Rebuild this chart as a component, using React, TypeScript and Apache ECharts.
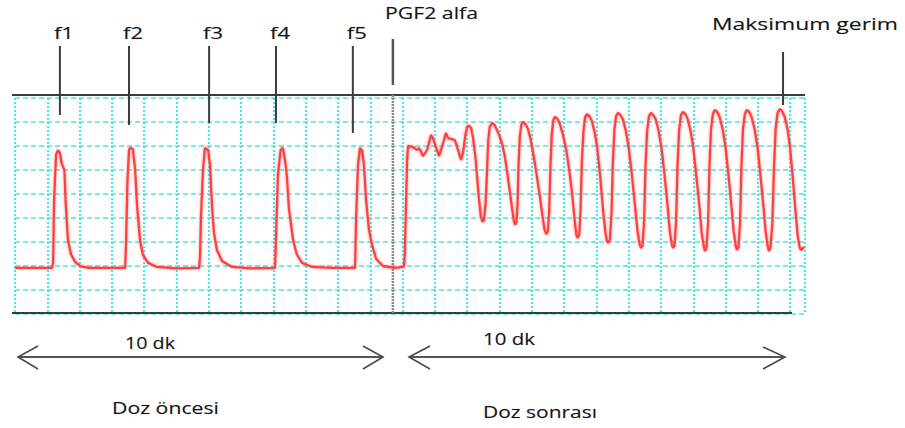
import React, { useEffect, useRef } from "react";
import * as echarts from "echarts";

// Uterine strip tension trace: [time (grid divisions), tension (grid divisions)]
const preDoseTrace: [number, number][] = [
  [0, 1.92], [1.15, 1.92], [1.18, 2.17], [1.21, 4.75], [1.27, 6.63], [1.33, 6.83], [1.39, 6.71],
  [1.45, 6.25], [1.53, 6.0], [1.57, 4.6], [1.64, 3.08], [1.73, 2.5], [1.86, 2.17], [2.04, 1.98], [2.3, 1.92],
  [3.41, 1.92], [3.44, 3.0], [3.48, 5.5], [3.53, 6.83], [3.56, 6.92], [3.65, 6.88], [3.72, 6.0],
  [3.78, 4.5], [3.87, 3.08], [3.96, 2.46], [4.12, 2.13], [4.4, 1.96], [5.0, 1.9],
  [5.7, 1.92], [5.73, 2.46], [5.76, 4.13], [5.82, 6.0], [5.88, 6.92], [5.98, 6.83], [6.04, 6.17],
  [6.1, 4.5], [6.16, 3.38], [6.25, 2.67], [6.41, 2.21], [6.72, 1.96], [7.3, 1.9],
  [8.05, 1.92], [8.08, 3.08], [8.14, 5.79], [8.22, 6.8], [8.27, 6.92], [8.3, 6.88], [8.36, 6.42],
  [8.42, 5.7], [8.48, 4.4], [8.61, 3.08], [8.72, 2.5], [8.89, 2.13], [9.2, 1.96], [9.8, 1.92],
  [10.53, 1.92], [10.56, 3.92], [10.62, 6.21], [10.68, 6.92], [10.74, 6.83], [10.8, 6.3],
  [10.87, 4.75], [10.96, 3.5], [11.05, 2.9], [11.18, 2.3], [11.39, 2.0], [11.76, 1.92], [12.04, 1.96],
];

const postDoseTrace: [number, number][] = [
  [12.07, 2.46], [12.11, 4.75], [12.14, 6.42], [12.17, 7.0],
  [12.32, 6.96], [12.45, 6.83], [12.51, 6.92], [12.63, 6.58], [12.76, 6.83], [12.88, 7.46],
  [12.94, 7.33], [13.03, 6.96], [13.13, 6.58], [13.22, 6.96], [13.34, 7.54], [13.41, 7.33],
  [13.53, 7.29], [13.62, 7.25], [13.72, 6.83], [13.81, 6.42], [13.87, 6.71], [13.95, 7.5],
  [14.0, 7.8], [14.06, 7.85], [14.12, 7.75], [14.18, 7.35], [14.26, 6.5], [14.35, 5.0],
  [14.42, 4.1], [14.47, 3.85], [14.52, 3.9], [14.57, 4.6], [14.61, 5.8], [14.65, 7.2],
  [14.7, 7.8], [14.77, 7.96],
  [14.85, 7.88], [14.92, 7.67], [15.0, 7.42], [15.08, 7.1], [15.16, 6.6], [15.23, 6.0],
  [15.31, 5.2], [15.39, 4.4], [15.45, 3.85], [15.49, 3.72], [15.53, 3.85], [15.56, 4.6],
  [15.59, 6.2], [15.63, 7.4], [15.68, 7.9], [15.73, 8.0],
  [15.8, 7.92], [15.88, 7.72], [15.96, 7.3], [16.04, 6.75], [16.14, 5.9], [16.25, 4.9],
  [16.34, 4.0], [16.4, 3.5], [16.45, 3.33], [16.5, 3.45], [16.54, 4.3], [16.58, 6.2],
  [16.62, 7.5], [16.67, 8.1], [16.72, 8.21],
  [16.8, 8.12], [16.87, 7.92], [16.96, 7.5], [17.06, 6.9], [17.16, 6.0], [17.25, 5.0],
  [17.33, 3.9], [17.38, 3.3], [17.42, 3.17], [17.47, 3.3], [17.51, 4.3], [17.55, 6.3],
  [17.6, 7.6], [17.65, 8.2], [17.71, 8.33],
  [17.78, 8.25], [17.86, 8.05], [17.95, 7.55], [18.03, 6.9], [18.12, 5.7], [18.21, 4.3],
  [18.28, 3.4], [18.33, 3.02], [18.37, 2.96], [18.42, 3.1], [18.47, 4.2], [18.51, 6.3],
  [18.56, 7.7], [18.61, 8.25], [18.67, 8.38],
  [18.74, 8.3], [18.82, 8.12], [18.91, 7.65], [19.0, 6.95], [19.1, 5.8], [19.19, 4.6],
  [19.27, 3.5], [19.33, 2.95], [19.38, 2.75], [19.43, 2.85], [19.48, 3.9], [19.52, 6.1],
  [19.57, 7.6], [19.63, 8.25], [19.69, 8.38],
  [19.76, 8.3], [19.84, 8.1], [19.93, 7.6], [20.02, 6.9], [20.11, 5.8], [20.2, 4.6],
  [20.27, 3.5], [20.33, 2.95], [20.37, 2.75], [20.42, 2.85], [20.47, 3.9], [20.51, 6.1],
  [20.56, 7.6], [20.62, 8.3], [20.68, 8.42],
  [20.75, 8.35], [20.83, 8.12], [20.92, 7.6], [21.01, 6.85], [21.1, 5.7], [21.19, 4.5],
  [21.26, 3.4], [21.32, 2.85], [21.36, 2.63], [21.41, 2.75], [21.46, 3.8], [21.5, 6.1],
  [21.55, 7.7], [21.61, 8.35], [21.67, 8.5],
  [21.74, 8.42], [21.82, 8.2], [21.91, 7.7], [22.0, 6.95], [22.09, 5.8], [22.18, 4.55],
  [22.25, 3.45], [22.31, 2.88], [22.35, 2.67], [22.4, 2.78], [22.45, 3.8], [22.49, 6.1],
  [22.54, 7.7], [22.6, 8.35], [22.66, 8.5],
  [22.73, 8.42], [22.81, 8.2], [22.9, 7.7], [22.99, 6.95], [23.08, 5.8], [23.17, 4.55],
  [23.24, 3.45], [23.3, 2.85], [23.34, 2.63], [23.39, 2.75], [23.45, 3.8], [23.5, 6.1],
  [23.55, 7.7], [23.61, 8.38], [23.68, 8.54],
  [23.75, 8.45], [23.83, 8.22], [23.92, 7.7], [24.0, 6.9], [24.08, 5.7], [24.16, 4.4],
  [24.23, 3.3], [24.29, 2.8], [24.33, 2.67], [24.38, 2.7], [24.42, 2.8],
];

const contractionLabels = ["f1", "f2", "f3", "f4", "f5"];
const contractionTimes = [1.39, 3.53, 6.01, 8.08, 10.46];
const doseLabel = "PGF2 alfa";
const doseTime = 11.7;
const peakLabel = "Maksimum gerim";
const peakTime = 23.78;
const periodLabel = "10 dk";
const beforeLabel = "Doz öncesi";
const afterLabel = "Doz sonrası";

const FONT = '"Open Sans", "DejaVu Sans", sans-serif';
const INK = "#141414";
const RULE = "#3c3c3c";
const GRID_CYAN = "#3fe6f6";

let measureCtx: CanvasRenderingContext2D | null = null;
function textWidth(text: string, size: number): number {
  if (!measureCtx) measureCtx = document.createElement("canvas").getContext("2d");
  if (!measureCtx) return text.length * size * 0.55;
  measureCtx.font = `${size}px ${FONT}`;
  return measureCtx.measureText(text).width;
}

// Text stretched horizontally to a given width, anchored at x with the cap-height middle at y
function stretchedText(text: string, x: number, y: number, size: number, width: number, align: "left" | "center" = "left") {
  return {
    type: "text",
    x,
    y,
    scaleX: width / textWidth(text, size),
    silent: true,
    style: {
      text,
      font: `${size}px ${FONT}`,
      fill: INK,
      stroke: "rgba(20,20,20,0.35)",
      lineWidth: 0.4,
      align,
      textAlign: align,
      verticalAlign: "middle",
      textVerticalAlign: "middle",
    },
  };
}

function segment(x1: number, y1: number, x2: number, y2: number, width = 2, color = RULE, dash?: number[]) {
  return {
    type: "line",
    silent: true,
    shape: { x1, y1, x2, y2 },
    style: { stroke: color, lineWidth: width, lineDash: dash },
  };
}

function chevron(points: number[][]) {
  return {
    type: "polyline",
    silent: true,
    shape: { points },
    style: { stroke: "#4a4a4a", lineWidth: 1.6, fill: null },
  };
}

export default function App() {
  const ref = useRef<HTMLDivElement>(null);

  useEffect(() => {
    document.body.style.margin = "0";
    if (!ref.current) return;
    const chart = echarts.init(ref.current, null, { renderer: "svg" });

    chart.setOption({
      animation: false,
      backgroundColor: "#ffffff",
      grid: { left: 15, top: 98, width: 790, height: 216, containLabel: false },
      xAxis: {
        type: "value",
        min: 0,
        max: 24.46,
        interval: 1,
        axisLine: { show: false },
        axisTick: { show: false },
        axisLabel: { show: false },
        splitLine: { show: true, lineStyle: { color: GRID_CYAN, width: 2, type: [2, 2] } },
      },
      yAxis: {
        type: "value",
        min: 0,
        max: 9,
        interval: 1,
        axisLine: { show: false },
        axisTick: { show: false },
        axisLabel: { show: false },
        splitLine: { show: true, lineStyle: { color: GRID_CYAN, width: 1.5, type: [5, 3] } },
      },
      series: [
        {
          type: "line",
          data: [...preDoseTrace, ...postDoseTrace],
          showSymbol: false,
          smooth: false,
          lineStyle: { color: "#ff4040", width: 2.3, shadowColor: "rgba(255,80,80,0.55)", shadowBlur: 3 },
          z: 3,
        },
      ],
    });

    const px = (t: number) => chart.convertToPixel({ gridIndex: 0 }, [t, 0])[0];
    const markerBottoms = [115, 125, 123, 123, 133];

    const graphics: any[] = [
      // recording frame
      segment(12, 95, 805, 95, 2),
      segment(12, 313, 792, 313, 2),
    ];

    contractionTimes.forEach((t, i) => {
      const x = px(t);
      graphics.push(segment(x, 46, x, markerBottoms[i], 2));
      graphics.push(stretchedText(contractionLabels[i], x + 4, 33, 17, 20, "center"));
    });

    const dx = px(doseTime);
    graphics.push(segment(dx, 39, dx, 85, 2.5, "#555"));
    graphics.push(segment(dx, 95, dx, 313, 2.5, "#8a8a8a", [2, 1]));
    graphics.push(stretchedText(doseLabel, 385, 12, 17, 93));

    const mx = px(peakTime);
    graphics.push(segment(mx, 52, mx, 105, 2));
    graphics.push(stretchedText(peakLabel, 712, 23, 17, 186));

    // duration arrows
    graphics.push(segment(18, 357, 383, 357, 2, "#555"));
    graphics.push(chevron([[38, 346], [18, 357], [38, 369]]));
    graphics.push(chevron([[363, 346], [383, 357], [363, 369]]));
    graphics.push(segment(409, 357, 785, 357, 2, "#555"));
    graphics.push(chevron([[430, 346], [409, 357], [430, 369]]));
    graphics.push(chevron([[763, 347], [785, 357], [763, 369]]));

    graphics.push(stretchedText(periodLabel, 125, 343, 16, 50));
    graphics.push(stretchedText(periodLabel, 483, 338, 16, 52));
    graphics.push(stretchedText(beforeLabel, 112, 407, 17, 107));
    graphics.push(stretchedText(afterLabel, 483, 412, 17, 114));

    chart.setOption({ graphic: graphics });

    return () => chart.dispose();
  }, []);

  return <div ref={ref} style={{ width: 905, height: 428 }} />;
}
